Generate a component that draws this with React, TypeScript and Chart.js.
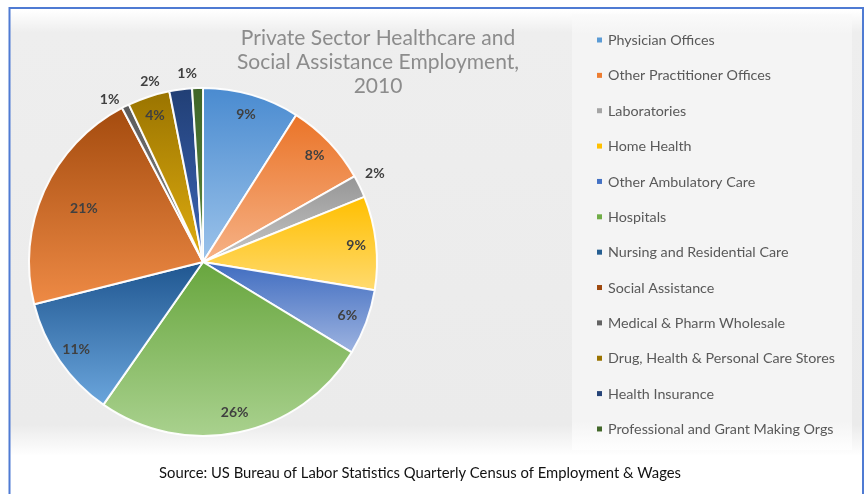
import React, { useEffect, useRef } from "react";
import { Chart, registerables } from "chart.js";

Chart.register(...registerables);

const categories = [
  "Physician Offices",
  "Other Practitioner Offices",
  "Laboratories",
  "Home Health",
  "Other Ambulatory Care",
  "Hospitals",
  "Nursing and Residential Care",
  "Social Assistance",
  "Medical & Pharm Wholesale",
  "Drug, Health & Personal Care Stores",
  "Health Insurance",
  "Professional and Grant Making Orgs",
];

const shares = [9.0, 7.8, 2.1, 8.7, 6.1, 26.0, 11.4, 21.2, 0.7, 3.9, 2.1, 1.0];

const titleLines = ["Private Sector Healthcare and", "Social Assistance Employment,", "2010"];
const sourceText = "Source: US Bureau of Labor Statistics Quarterly Census of Employment & Wages";

// styles
const darkColors = [
  "#4a8bd0", "#ea7428", "#969696", "#ffbf00", "#3f6cc0", "#68a63e",
  "#1f5690", "#a44b0e", "#5a5a5a", "#9a7400", "#213f75", "#3f6528",
];
const lightColors = [
  "#9cc3ea", "#f6b287", "#c6c6c6", "#ffda6e", "#9db3e0", "#a9d18e",
  "#6aa5dc", "#ee8a45", "#8a8a8a", "#e0ad10", "#3d66b8", "#5e8a3e",
];
const legendColors = [
  "#5b9bd5", "#ed7d31", "#a5a5a5", "#ffc000", "#4472c4", "#70ad47",
  "#255e91", "#9e480e", "#636363", "#997300", "#264478", "#43682b",
];
const labelRadius = [0.885, 0.885, 1.11, 0.885, 0.885, 0.885, 0.885, 0.75, 1.075, 0.885, 1.08, 1.09];
const labelAngleShift = [0, 0, -1.4, 0, 0, 0, 0, 0, -3.5, 0, -9, -3];

const PIE_RADIUS = 174;
const FONT = "Lato, 'Open Sans', sans-serif";

function sliceGradient(c: any) {
  const i = c.dataIndex;
  const chart = c.chart;
  const area = chart.chartArea;
  if (!area || i === undefined) return darkColors[i ?? 0];
  const cx = (area.left + area.right) / 2;
  const cy = (area.top + area.bottom) / 2;
  const total = shares.reduce((a, b) => a + b, 0);
  let cum = 0;
  for (let k = 0; k < i; k++) cum += shares[k];
  const a0 = -Math.PI / 2 + (2 * Math.PI * cum) / total;
  const a1 = -Math.PI / 2 + (2 * Math.PI * (cum + shares[i])) / total;
  let minY = cy, maxY = cy;
  for (let s = 0; s <= 40; s++) {
    const a = a0 + ((a1 - a0) * s) / 40;
    const y = cy + PIE_RADIUS * Math.sin(a);
    minY = Math.min(minY, y);
    maxY = Math.max(maxY, y);
  }
  const g = chart.ctx.createLinearGradient(0, minY, 0, maxY + 0.01);
  g.addColorStop(0, darkColors[i]);
  g.addColorStop(1, lightColors[i]);
  return g;
}

const backgroundPlugin = {
  id: "frameBackground",
  beforeDraw(chart: any) {
    const ctx = chart.ctx as CanvasRenderingContext2D;
    ctx.save();
    ctx.fillStyle = "#ffffff";
    ctx.fillRect(0, 0, chart.width, chart.height);
    // gray chart area
    const g = ctx.createLinearGradient(0, 10, 0, 456);
    g.addColorStop(0, "#ffffff");
    g.addColorStop(0.05, "#eeeeee");
    g.addColorStop(0.93, "#ebebeb");
    g.addColorStop(1, "#ffffff");
    ctx.fillStyle = g;
    ctx.fillRect(10, 10, 852, 446);
    // legend panel
    const g2 = ctx.createLinearGradient(0, 12, 0, 452);
    g2.addColorStop(0, "#fbfbfb");
    g2.addColorStop(0.05, "#f4f4f4");
    g2.addColorStop(0.93, "#f4f4f4");
    g2.addColorStop(1, "#ffffff");
    ctx.fillStyle = g2;
    ctx.fillRect(572, 14, 280, 436);
    // frame
    ctx.strokeStyle = "#4f7bd3";
    ctx.lineWidth = 2;
    ctx.strokeRect(9.5, 8, 853.5, 500);
    // title
    ctx.fillStyle = "#8c8c8c";
    ctx.font = `21px ${FONT}`;
    ctx.textAlign = "center";
    ctx.textBaseline = "middle";
    const ty = [38.5, 62.5, 86.5];
    titleLines.forEach((t, k) => ctx.fillText(t, 378, ty[k]));
    // legend
    ctx.textAlign = "left";
    ctx.font = `14.3px ${FONT}`;
    categories.forEach((name, k) => {
      const y = 40 + k * 35.36;
      ctx.fillStyle = legendColors[k];
      ctx.fillRect(597, y - 2.5, 5, 5);
      ctx.fillStyle = "#595959";
      ctx.fillText(name, 608, y + 0.5);
    });
    // source
    ctx.fillStyle = "#111111";
    ctx.font = `14.8px ${FONT}`;
    ctx.textAlign = "center";
    ctx.fillText(sourceText, 420, 473);
    ctx.restore();
  },
};

const labelPlugin = {
  id: "percentLabels",
  afterDatasetsDraw(chart: any) {
    const ctx = chart.ctx as CanvasRenderingContext2D;
    const meta = chart.getDatasetMeta(0);
    const total = shares.reduce((a, b) => a + b, 0);
    ctx.save();
    ctx.fillStyle = "#404040";
    ctx.font = `bold 14px ${FONT}`;
    ctx.textAlign = "center";
    ctx.textBaseline = "middle";
    meta.data.forEach((arc: any, i: number) => {
      const p = arc.getProps(["x", "y", "startAngle", "endAngle", "outerRadius"], true);
      const mid = (p.startAngle + p.endAngle) / 2 + (labelAngleShift[i] * Math.PI) / 180;
      const r = p.outerRadius * labelRadius[i];
      const x = p.x + r * Math.cos(mid);
      const y = p.y + r * Math.sin(mid);
      ctx.fillText(`${Math.round((shares[i] / total) * 100)}%`, x, y);
    });
    ctx.restore();
  },
};

export default function App() {
  const ref = useRef<HTMLCanvasElement>(null);
  useEffect(() => {
    const canvas = ref.current;
    if (!canvas) return;
    const chart = new Chart(canvas, {
      type: "pie",
      data: {
        labels: categories,
        datasets: [
          {
            data: shares,
            backgroundColor: sliceGradient as any,
            borderColor: "rgba(255,255,255,0.95)",
            borderWidth: 2,
            radius: PIE_RADIUS,
          } as any,
        ],
      },
      options: {
        responsive: false,
        animation: false,
        devicePixelRatio: 1,
        layout: { padding: { left: 27, top: 86, right: 487, bottom: 56 } },
        plugins: {
          legend: { display: false },
          tooltip: { enabled: false },
          title: { display: false },
        },
      },
      plugins: [backgroundPlugin, labelPlugin],
    });
    return () => chart.destroy();
  }, []);
  return (
    <canvas
      ref={ref}
      width={866}
      height={494}
      style={{ position: "absolute", left: 0, top: 0, width: 866, height: 494 }}
    />
  );
}
